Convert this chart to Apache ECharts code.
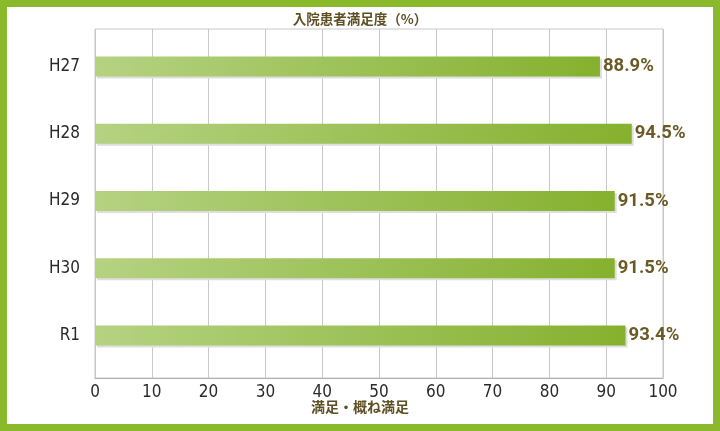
<!DOCTYPE html>
<html><head><meta charset="utf-8">
<script src="https://cdn.jsdelivr.net/npm/echarts@6/dist/echarts.min.js"></script>
<style>html,body{margin:0;padding:0;background:#fff}#c{width:720px;height:431px}</style>
</head><body><div id="c"></div>
<script>
var categories = ['H27','H28','H29','H30','R1'];
var values = [88.9, 94.5, 91.5, 91.5, 93.4];
var xTicks = [0,10,20,30,40,50,60,70,80,90,100];
var titleText = '入院患者満足度（%）';
var xName = '満足・概ね満足';

var chart = echarts.init(document.getElementById('c'));
var narrow = '"Liberation Sans Narrow","DejaVu Sans Condensed",sans-serif';
var cjk = '"Noto Sans CJK JP",sans-serif';
chart.setOption({
  animation: false,
  title: {
    text: titleText, left: 'center', top: 7,
    textStyle: {fontFamily: cjk, fontSize: 13.5, fontWeight: 'bold', color: '#5e5024'}
  },
  graphic: [{
    type: 'rect', silent: true,
    shape: {x: 3.5, y: 3.5, width: 713, height: 424},
    style: {fill: 'none', stroke: '#8aba2b', lineWidth: 7}
  }, {
    type: 'text', left: 'center', top: 400,
    style: {text: xName, font: 'bold 14px ' + cjk, fill: '#5e5024'}
  }],
  grid: [
    {left: 95, right: 57, top: 29, bottom: 53, show: true, borderColor: '#c8c8c8', borderWidth: 1},
    {left: 95, right: 57, top: 33, bottom: 62}
  ],
  xAxis: [{
    gridIndex: 0, type: 'value', min: xTicks[0], max: xTicks[xTicks.length-1], interval: 10,
    axisLine: {show: true, lineStyle: {color: '#b0b0b0'}},
    axisTick: {show: false},
    splitLine: {show: true, lineStyle: {color: '#c8c8c8'}},
    axisLabel: {fontFamily: narrow, fontSize: 17, fontWeight: 'normal', color: '#2a2a2a', margin: 6}
  }, {
    gridIndex: 1, type: 'value', min: 0, max: 100, show: false
  }],
  yAxis: [{
    gridIndex: 0, type: 'value', show: false
  }, {
    gridIndex: 1, type: 'category', data: categories, inverse: true,
    axisLine: {show: false}, axisTick: {show: false}, splitLine: {show: false},
    axisLabel: {fontFamily: narrow, fontSize: 17, fontWeight: 'normal', color: '#2a2a2a', margin: 15}
  }],
  series: [{
    type: 'bar', xAxisIndex: 1, yAxisIndex: 1, data: values, barWidth: 20,
    itemStyle: {
      color: new echarts.graphic.LinearGradient(0, 0, 1, 0, [
        {offset: 0, color: '#b5d282'}, {offset: 1, color: '#85b12e'}
      ]),
      shadowColor: '#dedede', shadowOffsetX: 2, shadowOffsetY: 2, shadowBlur: 0
    },
    label: {
      show: true, position: 'right', distance: 3,
      formatter: function(p){ return p.value.toFixed(1) + '%'; },
      fontFamily: 'Roboto, sans-serif', fontSize: 18.5, fontWeight: 'bold', color: '#6b5a25'
    }
  }]
});
</script></body></html>
